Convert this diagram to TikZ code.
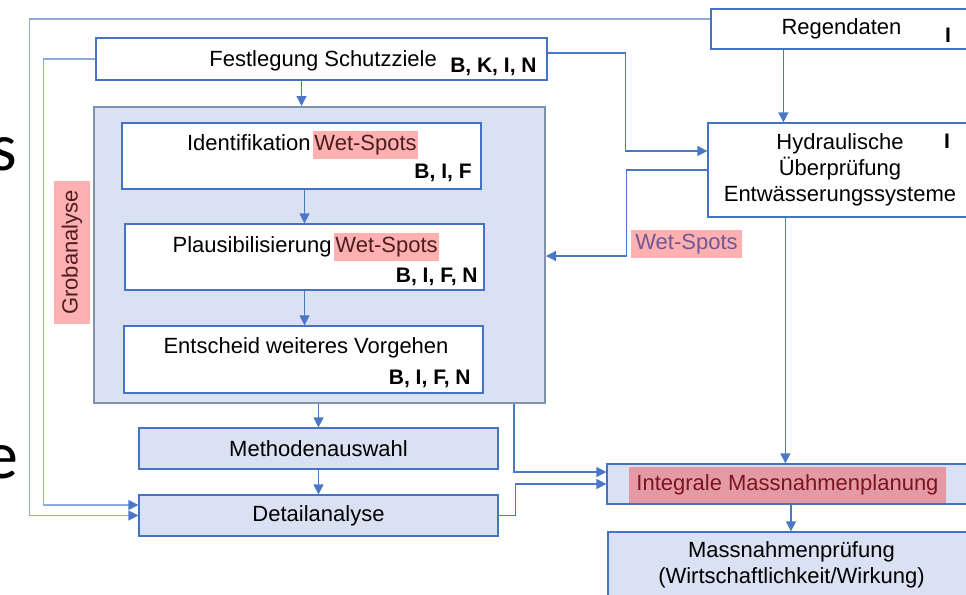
\documentclass[tikz,border=0pt]{standalone}
\usepackage{fontspec}
\setmainfont{Liberation Sans}
\newfontfamily\slidefont{Carlito}
\usepackage{xcolor}
\usepackage{tikz}
\usetikzlibrary{arrows.meta, calc}
\definecolor{boxblue}{HTML}{4472C4}
\definecolor{lightblue}{HTML}{D9E1F2}
\definecolor{groupgray}{HTML}{8093AE}
\definecolor{linkblue}{HTML}{4A78C6}
\definecolor{framelink}{HTML}{8EA9DB}
\definecolor{spotpink}{HTML}{FFB0B0}
\definecolor{spotdark}{HTML}{4A1E1E}
\definecolor{spottext}{HTML}{6E5896}
\definecolor{planpink}{HTML}{E39AA4}
\definecolor{plantext}{HTML}{7D1420}
\tikzstyle{box} = [draw=boxblue, line width=0.6pt, fill=white, inner sep=0pt]
\tikzstyle{bluebox} = [box, fill=lightblue]
\tikzstyle{groupbox} = [draw=groupgray, line width=1pt, fill=lightblue, inner sep=0pt]
\tikzstyle{txt} = [inner sep=0pt]
\tikzstyle{hl} = [fill=spotpink, text=spotdark, inner xsep=0.5pt, inner ysep=0pt, minimum height=14pt]
\tikzstyle{tagtxt} = [inner sep=0pt, font=\fontsize{10.5}{12}\selectfont\bfseries]
\tikzstyle{arrow} = [line width=0.6pt, draw=linkblue, -{Triangle[length=5pt,width=5pt,color=linkblue]}]

\begin{document}
\begin{tikzpicture}[x=0.5pt, y=-0.5pt, font=\fontsize{11}{13}\selectfont]
    \useasboundingbox (0,0) rectangle (966,595);
    \clip (0,0) rectangle (966,595);

    % cut-off slide text
    \node[txt, anchor=base east, font=\slidefont\fontsize{34}{40}\selectfont] (slides) at (17,170) {s};
    \node[txt, anchor=base east, font=\slidefont\fontsize{34}{40}\selectfont] (slidee) at (19,478) {e};

    % left column
    \node[box, minimum width=225.5pt, minimum height=21pt] (fest) at (321.5,59) {};
    \node[txt, anchor=base west] (festtxt) at (209,66) {Festlegung Schutzziele};
    \node[tagtxt, anchor=base east] (festtag) at (537,72) {B, K, I, N};

    \node[groupbox, minimum width=225.5pt, minimum height=148pt] (grob) at (319.5,255) {};

    \node[box, minimum width=179.5pt, minimum height=33pt] (ident) at (301.5,156) {};
    \node[txt, anchor=base east] (identtxt) at (311,150) {Identifikation};
    \node[hl, anchor=base west] (identws) at (313,150) {Wet-Spots};
    \node[tagtxt, anchor=base east] (identtag) at (472,178) {B, I, F};

    \node[box, minimum width=179.5pt, minimum height=33pt] (plaus) at (304.5,257) {};
    \node[txt, anchor=base east] (plaustxt) at (332,252) {Plausibilisierung};
    \node[hl, anchor=base west] (plausws) at (334,252) {Wet-Spots};
    \node[tagtxt, anchor=base east] (plaustag) at (478,282) {B, I, F, N};

    \node[box, minimum width=179.5pt, minimum height=33.5pt] (entsch) at (303.5,359.5) {};
    \node[txt, anchor=base] (entschtxt) at (306,353) {Entscheid weiteres Vorgehen};
    \node[tagtxt, anchor=base east] (entschtag) at (471,384) {B, I, F, N};

    \node[bluebox, minimum width=179.5pt, minimum height=20.5pt] (meth) at (318.5,448.5) {Methodenauswahl};
    \node[bluebox, minimum width=179.5pt, minimum height=20.5pt] (detail) at (318.5,515.5) {Detailanalyse};

    \node[hl, rotate=90, minimum width=71.5pt, minimum height=18pt] (grobtxt) at (72,252.5) {Grobanalyse};

    % right column
    \node[box, minimum width=130.5pt, minimum height=20pt] (regen) at (841.5,29) {Regendaten};
    \node[tagtxt, anchor=base] (regentag) at (948,42) {I};
    \node[box, minimum width=132pt, minimum height=47pt, align=center] (hydr) at (840,170) {Hydraulische\\Überprüfung\\Entwässerungssysteme};
    \node[tagtxt, anchor=base] (hydrtag) at (947,148) {I};
    \node[hl, minimum width=55.5pt, text=spottext] (wetspots) at (686.5,244) {Wet-Spots};
    \node[bluebox, minimum width=184pt, minimum height=20pt] (integ) at (791,484) {};
    \node[txt, fill=planpink, minimum width=158.5pt, minimum height=18pt, text=plantext] (integtxt) at (787.5,485) {Integrale Massnahmenplanung};
    \node[bluebox, minimum width=183.5pt, minimum height=33pt, align=center] (mass) at (791.5,565) {Massnahmenprüfung\\(Wirtschaftlichkeit/Wirkung)};

    % connectors
    \coordinate (rv) at ([xshift=36.5pt]regen.south west);
    \coordinate (hv) at ([xshift=39pt]hydr.south west);
    \draw[arrow] (fest.south -| ident) -- (ident |- grob.north);
    \draw[arrow] (ident.south -| plaus) -- (plaus.north);
    \draw[arrow] (plaus.south) -- (plaus.south |- entsch.north);
    \draw[arrow] (grob.south -| meth) -- (meth.north);
    \draw[arrow] (meth) -- (detail);
    \draw[arrow] (rv) -- (rv |- hydr.north);
    \draw[arrow] (hv) -- (hv |- integ.north);
    \draw[arrow] (integ.south) -- (integ.south |- mass.north);
    \draw[arrow] ([yshift=3pt]fest.east) -- ++(78,0) |- ([yshift=9.5pt]hydr.west);
    \draw[arrow] (hydr.west) -- ++(-81,0) |- ([yshift=-0.5pt]grob.east);
    \draw[arrow, draw=framelink] ([yshift=5pt]regen.west) -- ++(-681,0) |- (detail.west);
    \draw[arrow, draw=framelink] (fest.west) -- ++(-52,0) |- ([yshift=5.25pt]detail.west);
    \draw[arrow] ([xshift=210.5pt]grob.south west) |- ([yshift=6pt]integ.west);
    \draw[arrow] (detail.east) -- ++(17,0) |- (integ.west);
\end{tikzpicture}
\end{document}
